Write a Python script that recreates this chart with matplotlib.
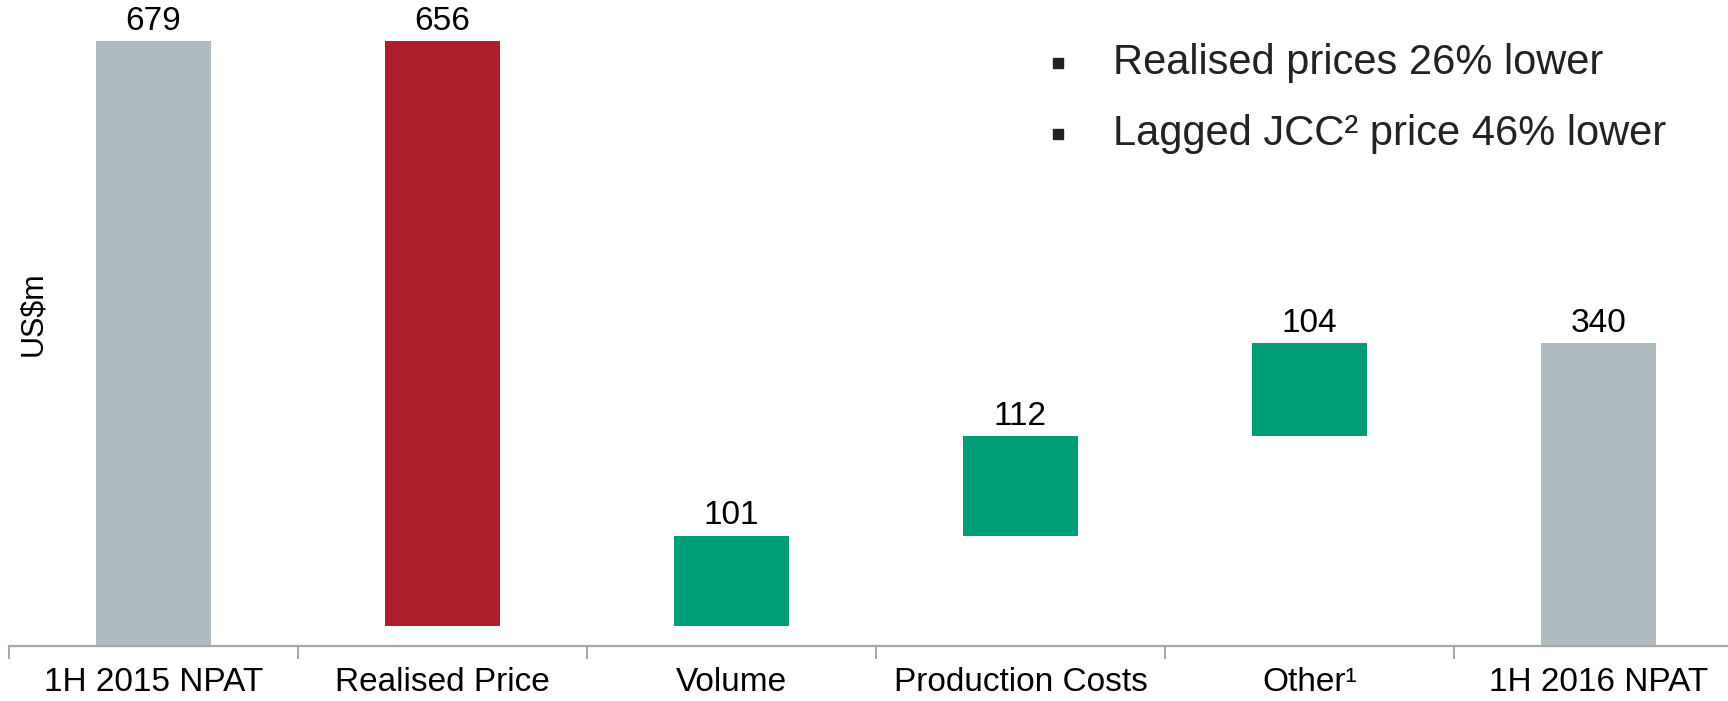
import matplotlib
matplotlib.use("Agg")
import matplotlib.pyplot as plt
import numpy as np

plt.rcParams['font.family'] = ['Liberation Sans', 'DejaVu Sans']

# waterfall data (US$m)
categories = ['1H 2015 NPAT', 'Realised Price', 'Volume', 'Production Costs',
              'Other\u00b9', '1H 2016 NPAT']
start_value = 679
changes = [-656, 101, 112, 104]
end_value = 340
notes = ['Realised prices 26% lower', 'Lagged JCC\u00b2 price 46% lower']

grey = '#B0BCC2'
red = '#AC1F2D'
green = '#009B77'
axis_grey = '#A6A6A6'

fig = plt.figure(figsize=(17.28, 7.01), dpi=100)
ax = fig.add_axes([9 / 1728, 55 / 701, 1734 / 1728, 646 / 701])

bottoms = [0]
heights = [start_value]
colors = [grey]
labels = [start_value]
running = start_value
for c in changes:
    if c < 0:
        bottoms.append(running + c)
        heights.append(-c)
        colors.append(red)
    else:
        bottoms.append(running)
        heights.append(c)
        colors.append(green)
    labels.append(abs(c))
    running += c
bottoms.append(0)
heights.append(end_value)
colors.append(grey)
labels.append(end_value)

x = np.arange(len(categories))
ax.bar(x, heights, bottom=bottoms, width=0.40, color=colors, linewidth=0)

for xi, b, h, lab in zip(x, bottoms, heights, labels):
    ax.annotate(str(lab), (xi, b + h), xytext=(0, 3), textcoords='offset points',
                ha='center', va='bottom', fontsize=24, color='black')

ax.set_xlim(-0.5, len(categories) - 0.5)
ax.set_ylim(0, 725)

for side in ['top', 'right', 'left']:
    ax.spines[side].set_visible(False)
ax.spines['bottom'].set_color(axis_grey)
ax.spines['bottom'].set_linewidth(1.6)
ax.set_yticks([])

ax.set_xticks(x)
ax.set_xticklabels(categories, fontsize=24)
ax.tick_params(axis='x', which='major', length=0, pad=15)
ax.set_xticks(np.arange(len(categories) + 1) - 0.5, minor=True)
ax.tick_params(axis='x', which='minor', length=9.5, width=1.4, color=axis_grey)

fig.text(33 / 1728, 1 - 314 / 701, 'US$m', rotation=90, ha='center', va='center',
         fontsize=22)

# bullet notes at top right
for i, note in enumerate(notes):
    yy = 1 - (63 + 71 * i) / 701
    fig.lines.append(plt.Line2D([1058 / 1728], [yy], marker='s', markersize=7.5,
                                color='#222222', transform=fig.transFigure))
    fig.text(1113 / 1728, yy, note, ha='left', va='center', fontsize=30,
             color='#222222')

fig.savefig('out.png', dpi=100)
